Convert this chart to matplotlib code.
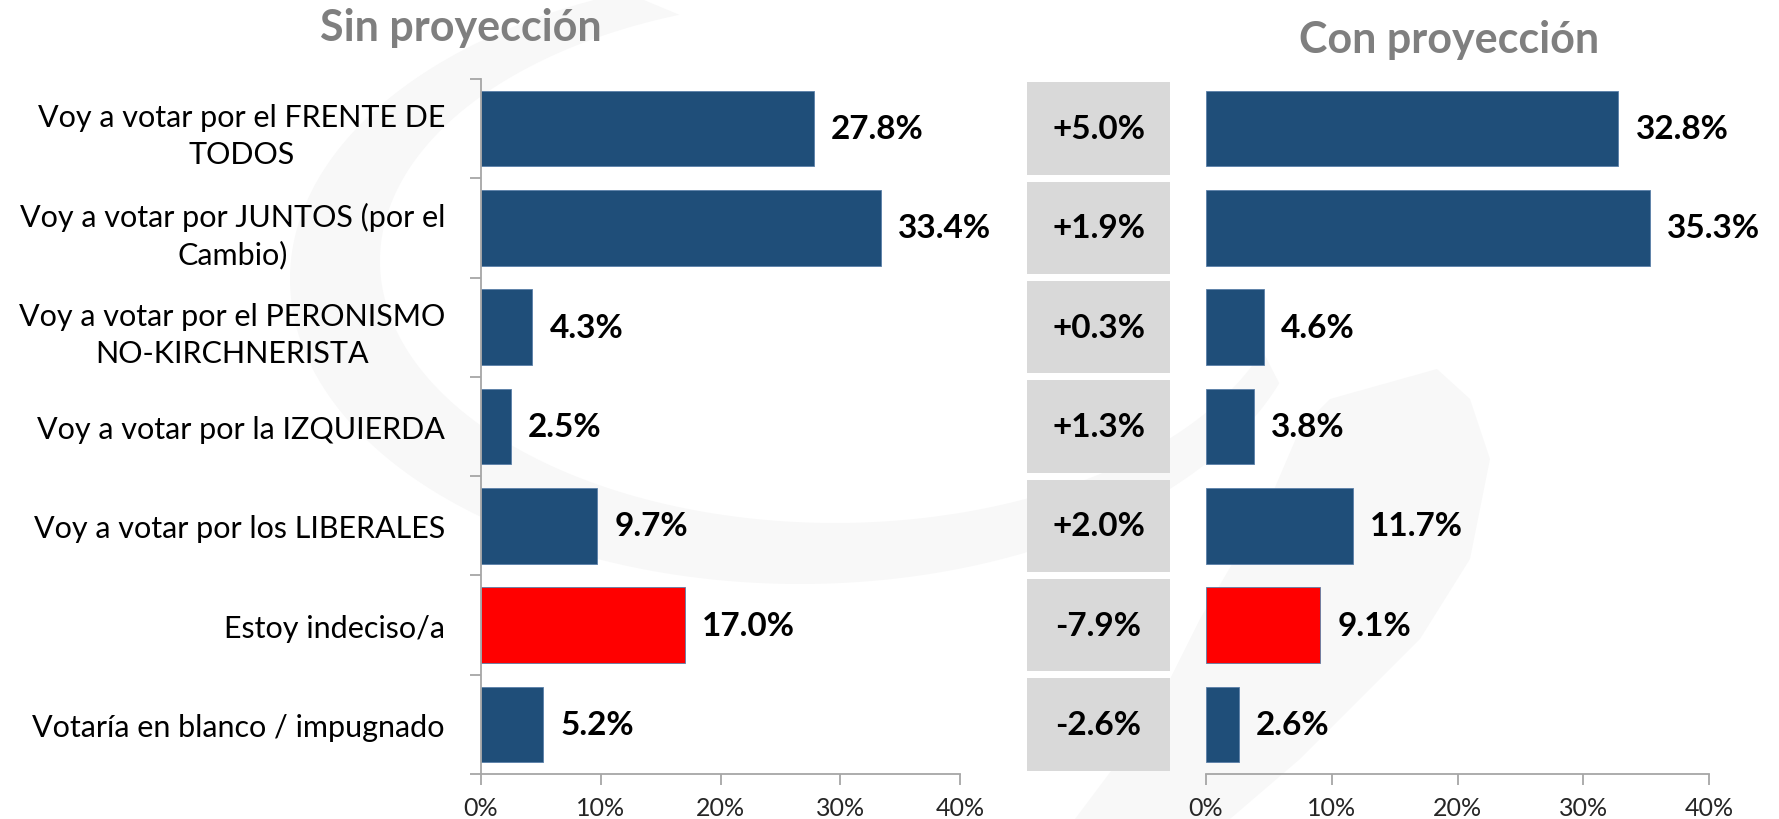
import matplotlib
matplotlib.use("Agg")
import matplotlib.pyplot as plt
from matplotlib.patches import Polygon
import numpy as np

plt.rcParams['font.family'] = ['Lato', 'DejaVu Sans']

categories = [
    "Voy a votar por el FRENTE DE\nTODOS",
    "Voy a votar por JUNTOS (por el\nCambio)",
    "Voy a votar por el PERONISMO\nNO-KIRCHNERISTA",
    "Voy a votar por la IZQUIERDA",
    "Voy a votar por los LIBERALES",
    "Estoy indeciso/a",
    "Votaría en blanco / impugnado",
]
sin_proyeccion = [27.8, 33.4, 4.3, 2.5, 9.7, 17.0, 5.2]
con_proyeccion = [32.8, 35.3, 4.6, 3.8, 11.7, 9.1, 2.6]
diferencia = ["+5.0%", "+1.9%", "+0.3%", "+1.3%", "+2.0%", "-7.9%", "-2.6%"]
x_ticks = [0, 10, 20, 30, 40]
x_tick_labels = ["0%", "10%", "20%", "30%", "40%"]
titles = ["Sin proyección", "Con proyección"]

BLUE = "#1F4E79"
RED = "#FF0000"
GRAY_BOX = "#D9D9D9"
AXIS = "#A6A6A6"
bar_colors = [RED if c.startswith("Estoy") else BLUE for c in categories]

W, H = 1779, 820
fig = plt.figure(figsize=(W / 100, H / 100), dpi=100)
fig.patch.set_facecolor("white")

def frac(x0, y0, x1, y1):
    return [x0 / W, 1 - y1 / H, (x1 - x0) / W, (y1 - y0) / H]

# faint background watermark
bg = fig.add_axes([0, 0, 1, 1], zorder=-10)
bg.set_xlim(0, W)
bg.set_ylim(H, 0)
bg.axis("off")
t = np.radians(np.linspace(20, 250, 200))
outer = np.column_stack([800 + 510 * np.cos(t), 280 + 305 * np.sin(t)])
inner = np.column_stack([835 + 455 * np.cos(t[::-1]), 262 + 262 * np.sin(t[::-1])])
bg.add_patch(Polygon(np.vstack([outer, inner]), closed=True, fc="#F8F8F8", ec="none"))
swoosh = [(1437, 370), (1470, 400), (1490, 460), (1470, 560), (1420, 640),
          (1300, 760), (1230, 820), (1075, 820), (1150, 720), (1200, 620),
          (1270, 500), (1300, 430), (1330, 400)]
bg.add_patch(Polygon(swoosh, closed=True, fc="#F8F8F8", ec="none"))

y = np.arange(len(categories))
ylim = (len(categories) - 0.5, -0.5)

def style_bar_axes(ax, show_left):
    ax.set_facecolor("none")
    ax.set_xlim(0, 40)
    ax.set_ylim(*ylim)
    for s in ["top", "right"]:
        ax.spines[s].set_visible(False)
    ax.spines["bottom"].set_color(AXIS)
    ax.spines["bottom"].set_linewidth(1.3)
    ax.spines["left"].set_visible(show_left)
    ax.spines["left"].set_color(AXIS)
    ax.spines["left"].set_linewidth(1.3)
    ax.set_xticks(x_ticks)
    ax.set_xticklabels(x_tick_labels)
    ax.tick_params(axis="x", direction="out", length=8, width=1.3, color=AXIS,
                   labelsize=18, labelcolor="#262626", pad=8)

# Left chart
ax1 = fig.add_axes(frac(481, 80, 960, 775))
ax1.barh(y, sin_proyeccion, height=0.76, color=bar_colors, edgecolor="#5A7FA8",
         linewidth=0.6)
style_bar_axes(ax1, True)
ax1.set_yticks(y)
ax1.set_yticklabels(categories, fontsize=22, color="black", linespacing=1.4,
                    ha="right")
for lab in ax1.get_yticklabels():
    lab.set_multialignment("center")
ax1.tick_params(axis="y", which="major", length=0, pad=26)
ax1.set_yticks(np.arange(-0.5, len(categories)), minor=True)
ax1.tick_params(axis="y", which="minor", length=8, width=1.3, color=AXIS,
                direction="out")
for yi, v in zip(y, sin_proyeccion):
    ax1.annotate(f"{v:.1f}%", (v, yi), xytext=(17, 0), textcoords="offset pixels",
                 ha="left", va="center", fontsize=24, fontweight="bold",
                 color="black")

# Middle difference boxes
axm = fig.add_axes(frac(1027, 80, 1170, 775))
axm.set_xlim(0, 1)
axm.set_ylim(*ylim)
axm.axis("off")
axm.barh(y, [1] * len(diferencia), left=0, height=0.93, color=GRAY_BOX)
for yi, d in zip(y, diferencia):
    axm.text(0.5, yi, d, ha="center", va="center", fontsize=24,
             fontweight="bold", color="black")

# Right chart
ax2 = fig.add_axes(frac(1206, 80, 1709, 775))
ax2.barh(y, con_proyeccion, height=0.76, color=bar_colors, edgecolor="#5A7FA8",
         linewidth=0.6)
style_bar_axes(ax2, False)
ax2.set_yticks([])
for yi, v in zip(y, con_proyeccion):
    ax2.annotate(f"{v:.1f}%", (v, yi), xytext=(17, 0), textcoords="offset pixels",
                 ha="left", va="center", fontsize=24, fontweight="bold",
                 color="black")

# Titles
fig.text(461 / W, 1 - 28 / H, titles[0], ha="center", va="center",
         fontsize=31, fontweight="bold", color="#7F7F7F")
fig.text(1449 / W, 1 - 40 / H, titles[1], ha="center", va="center",
         fontsize=31, fontweight="bold", color="#7F7F7F")

fig.savefig("out.png", dpi=100, facecolor="white")
